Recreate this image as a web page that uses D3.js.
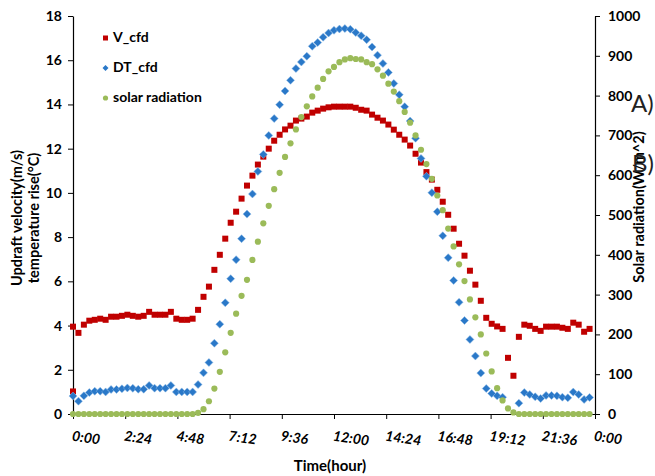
<!DOCTYPE html>
<html><head><meta charset="utf-8">
<script src="https://cdn.jsdelivr.net/npm/d3@7"></script>
<style>
html,body{margin:0;padding:0;background:#fff;}
svg{display:block;font-family:Lato,"Open Sans",sans-serif;}
</style></head>
<body><svg id="c" width="655" height="476"></svg>
<script>
// ---- data (15-minute steps, index i -> hour i/4) ----
const xTickLabels = ["0:00","2:24","4:48","7:12","9:36","12:00","14:24","16:48","19:12","21:36","0:00"];
const xTickHours = [0,2.4,4.8,7.2,9.6,12,14.4,16.8,19.2,21.6,24];
const leftTicks = [0,2,4,6,8,10,12,14,16,18];
const rightTicks = [0,100,200,300,400,500,600,700,800,900,1000];

const V_cfd = [3.95,3.67,4.04,4.22,4.26,4.31,4.26,4.40,4.40,4.44,4.49,4.44,4.40,4.44,4.62,4.49,4.49,4.49,4.62,4.31,4.26,4.26,4.31,4.71,
5.30,5.76,6.52,7.20,7.93,8.65,9.15,9.74,10.33,10.78,11.28,11.64,12.00,12.36,12.63,12.87,13.04,13.27,13.36,13.45,13.63,13.72,13.81,13.87,
13.90,13.90,13.90,13.90,13.85,13.76,13.72,13.54,13.40,13.27,13.09,12.86,12.63,12.41,12.14,11.77,11.37,10.94,10.60,10.14,9.60,9.01,8.38,7.70,
7.16,6.48,5.85,5.12,4.35,4.08,3.96,3.85,2.54,1.73,3.49,4.04,3.99,3.85,3.76,3.95,3.95,3.95,3.90,3.85,4.13,4.04,3.72,3.85];
const V_cfd_extra = [[0, 1.02]]; // [hour, value]

const DT_cfd = [0.81,0.58,0.82,0.97,1.03,1.03,1.00,1.11,1.11,1.14,1.18,1.16,1.12,1.12,1.29,1.17,1.17,1.17,1.29,1.00,1.00,1.00,1.00,1.33,
1.86,2.33,3.20,4.06,5.03,6.12,6.98,7.93,9.04,9.95,10.97,11.74,12.60,13.36,13.99,14.61,15.09,15.62,15.92,16.18,16.63,16.80,17.04,17.23,
17.35,17.41,17.43,17.40,17.25,17.11,16.93,16.60,16.23,15.85,15.45,14.95,14.44,13.90,13.25,12.47,11.56,10.75,10.01,9.15,8.06,7.07,6.04,5.05,
4.23,3.37,2.62,1.85,1.15,0.93,0.82,0.76,null,null,0.49,0.97,0.88,0.78,0.70,0.84,0.84,0.82,0.76,0.73,0.99,0.88,0.66,0.75];

const solar = [0,0,0,0,0,0,0,0,0,0,0,0,0,0,0,0,0,0,0,0,0,0,0,3,
12,32,64,106,155,204,252,297,337,387,433,479,523,565,606,646,680,715,746,773,798,820,842,861,
872,884,891,894,892,891,884,879,866,850,830,810,786,759,732,700,664,628,591,549,512,466,421,376,
334,288,243,200,152,107,65,34,14,4,0,0,0,0,0,0,0,0,0,0,0,0,0,0];

const legendLabels = ["V_cfd","DT_cfd","solar radiation"];
const colors = {V:"#C00000", DT:"#2A78C8", S:"#9BBB59"};

// ---- layout ----
const svg = d3.select("#c");
const L = 73, R = 595, T = 16, B = 414;
const x = d3.scaleLinear().domain([0,24]).range([L,R]);
const yL = d3.scaleLinear().domain([0,18]).range([B,T]);
const yR = d3.scaleLinear().domain([0,1000]).range([B,T]);
const hour = i => i/4;

// axes
const axL = svg.append("g").attr("transform",`translate(${L},0)`)
  .call(d3.axisLeft(yL).tickValues(leftTicks).tickSize(5).tickSizeOuter(0).tickPadding(6).tickFormat(d3.format("d")));
const axR = svg.append("g").attr("transform",`translate(${R},0)`)
  .call(d3.axisRight(yR).tickValues(rightTicks).tickSize(5).tickSizeOuter(0).tickPadding(8).tickFormat(d3.format("d")));
const axB = svg.append("g").attr("transform",`translate(0,${B})`)
  .call(d3.axisBottom(x).tickValues(xTickHours).tickSize(5).tickSizeOuter(0).tickFormat(""));
[axL,axR,axB].forEach(g=>{
  g.select(".domain").attr("stroke","#000").attr("stroke-width",1.2);
  g.selectAll(".tick line").attr("stroke","#000");
  g.selectAll("text").attr("font-family","Lato, sans-serif").attr("font-weight","700").attr("font-size","14px").attr("fill","#000");
});

// x tick labels (italic bold, slightly rotated)
svg.append("g").selectAll("text").data(xTickHours).join("text")
  .attr("transform",(d)=>`translate(${x(d)-1},${437}) rotate(8)`)
  .attr("text-anchor","start").attr("dominant-baseline","middle")
  .attr("font-size","14px").attr("font-weight","700").attr("font-style","italic")
  .text((d,i)=>xTickLabels[i]);

// axis titles
svg.append("text").attr("x",330).attr("y",471).attr("text-anchor","middle")
  .attr("font-size","15px").attr("font-weight","700").text("Time(hour)");
svg.append("text").attr("transform","translate(22,218) rotate(-90)").attr("text-anchor","middle")
  .attr("font-size","14.5px").attr("font-weight","700").text("Updraft velocity(m/s)");
svg.append("text").attr("transform","translate(39,218) rotate(-90)").attr("text-anchor","middle")
  .attr("font-size","14.5px").attr("font-weight","700").text("temperature rise(°C)");
svg.append("text").attr("transform","translate(644,207) rotate(-90)").attr("text-anchor","middle")
  .attr("font-size","14.5px").attr("font-weight","700").text("Solar radiation(W/m^2)");

// overlay labels
svg.append("text").attr("x",631).attr("y",112).attr("font-size","24px").attr("fill","#222").text("A)");
svg.append("text").attr("x",632).attr("y",172).attr("font-size","24px").attr("fill","#222").text("B)");

// ---- marks ----
const sq = 6;
const vPts = V_cfd.map((v,i)=>[hour(i),v]).concat(V_cfd_extra);
svg.append("g").selectAll("rect").data(vPts).join("rect")
  .attr("x",d=>x(d[0])-sq/2).attr("y",d=>yL(d[1])-sq/2).attr("width",sq).attr("height",sq)
  .attr("fill",colors.V);

const dia = r => `M0,${-r}L${r},0L0,${r}L${-r},0Z`;
svg.append("g").selectAll("path").data(DT_cfd.map((v,i)=>[hour(i),v]).filter(d=>d[1]!==null)).join("path")
  .attr("d",dia(4)).attr("transform",d=>`translate(${x(d[0])},${yL(d[1])})`)
  .attr("fill",colors.DT).attr("stroke","#8dbbe6").attr("stroke-width",0.5);

svg.append("g").selectAll("circle").data(solar.map((v,i)=>[hour(i),v])).join("circle")
  .attr("cx",d=>x(d[0])).attr("cy",d=>yR(d[1])).attr("r",3.1)
  .attr("fill",colors.S);

// ---- legend ----
const lg = svg.append("g");
const ly = [38,68,98];
lg.append("rect").attr("x",103).attr("y",ly[0]-2.5).attr("width",5).attr("height",5).attr("fill",colors.V);
lg.append("path").attr("d",dia(3)).attr("transform",`translate(105.5,${ly[1]})`).attr("fill",colors.DT);
lg.append("circle").attr("cx",105.5).attr("cy",ly[2]).attr("r",2.6).attr("fill",colors.S);
lg.selectAll("text").data(legendLabels).join("text")
  .attr("x",113).attr("y",(d,i)=>ly[i]).attr("dominant-baseline","middle")
  .attr("font-size","14px").attr("font-weight","700").text(d=>d);
</script></body></html>
